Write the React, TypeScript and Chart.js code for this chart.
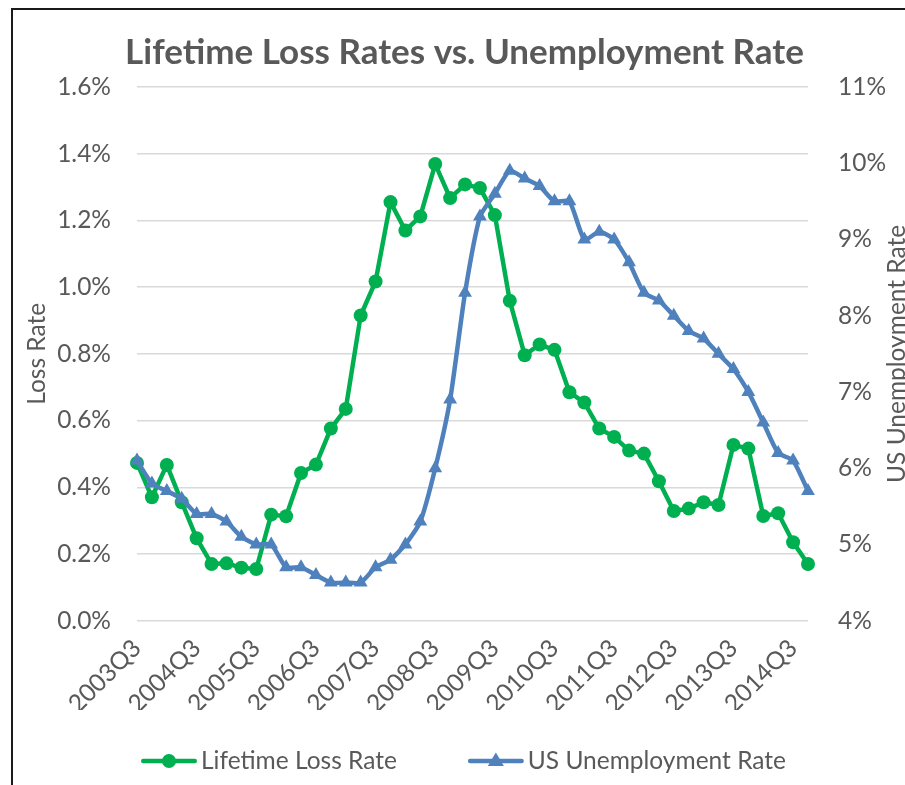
import React, { useEffect, useRef } from 'react';
import { Chart, registerables } from 'chart.js';

Chart.register(...registerables);

// Quarterly categories, 2003Q3 through 2014Q4
const quarters: string[] = [
  '2003Q3', '2003Q4',
  '2004Q1', '2004Q2', '2004Q3', '2004Q4',
  '2005Q1', '2005Q2', '2005Q3', '2005Q4',
  '2006Q1', '2006Q2', '2006Q3', '2006Q4',
  '2007Q1', '2007Q2', '2007Q3', '2007Q4',
  '2008Q1', '2008Q2', '2008Q3', '2008Q4',
  '2009Q1', '2009Q2', '2009Q3', '2009Q4',
  '2010Q1', '2010Q2', '2010Q3', '2010Q4',
  '2011Q1', '2011Q2', '2011Q3', '2011Q4',
  '2012Q1', '2012Q2', '2012Q3', '2012Q4',
  '2013Q1', '2013Q2', '2013Q3', '2013Q4',
  '2014Q1', '2014Q2', '2014Q3', '2014Q4',
];

// Lifetime loss rate (%), left axis
const lifetimeLossRate: number[] = [
  0.473, 0.37,
  0.467, 0.355, 0.247, 0.17,
  0.172, 0.159, 0.155, 0.318,
  0.313, 0.443, 0.468, 0.576,
  0.635, 0.915, 1.017, 1.255,
  1.17, 1.212, 1.369, 1.267,
  1.308, 1.297, 1.216, 0.959,
  0.796, 0.828, 0.812, 0.685,
  0.654, 0.576, 0.551, 0.51,
  0.501, 0.418, 0.329, 0.336,
  0.355, 0.347, 0.527, 0.516,
  0.314, 0.322, 0.235, 0.17,
];

// US unemployment rate (%), right axis
const usUnemploymentRate: number[] = [
  6.1, 5.8,
  5.7, 5.6, 5.4, 5.4,
  5.3, 5.1, 5.0, 5.0,
  4.7, 4.7, 4.6, 4.5,
  4.5, 4.5, 4.7, 4.8,
  5.0, 5.3, 6.0, 6.9,
  8.3, 9.3, 9.6, 9.9,
  9.8, 9.7, 9.5, 9.5,
  9.0, 9.1, 9.0, 8.7,
  8.3, 8.2, 8.0, 7.8,
  7.7, 7.5, 7.3, 7.0,
  6.6, 6.2, 6.1, 5.7,
];

const chartTitle = 'Lifetime Loss Rates vs. Unemployment Rate';
const seriesNames = ['Lifetime Loss Rate', 'US Unemployment Rate'];
const axisTitles = ['Loss Rate', 'US Unemployment Rate'];

const GREEN = '#00B050';
const BLUE = '#4F81BD';
const TEXT = '#595959';
const GRID = '#D9D9D9';
const FONT = 'Lato, "Open Sans", sans-serif';
const FS = 24.5;
const W = 905;
const H = 785;

type Marker = 'circle' | 'triangle';
const legendItems: { text: string; color: string; marker: Marker }[] = [
  { text: seriesNames[0], color: GREEN, marker: 'circle' },
  { text: seriesNames[1], color: BLUE, marker: 'triangle' },
];

// Draws the title, the right-hand axis title (reading bottom to top) and a
// legend whose keys are a line segment with the series marker in the middle.
const overlayText = {
  id: 'overlayText',
  afterDraw(chart: Chart) {
    const { ctx, chartArea } = chart;
    ctx.save();
    ctx.fillStyle = TEXT;
    ctx.textAlign = 'center';
    ctx.textBaseline = 'middle';
    ctx.font = `bold 35px ${FONT}`;
    ctx.fillText(chartTitle, 464.5, 53);

    ctx.save();
    ctx.font = `${FS}px ${FONT}`;
    ctx.translate(897.5, (chartArea.top + chartArea.bottom) / 2);
    ctx.rotate(-Math.PI / 2);
    ctx.fillText(axisTitles[1], 0, 0);
    ctx.restore();

    // legend
    const ly = 761;
    const keyW = 56;
    let x = 141;
    ctx.font = `${FS}px ${FONT}`;
    ctx.textAlign = 'left';
    legendItems.forEach((item) => {
      ctx.strokeStyle = item.color;
      ctx.fillStyle = item.color;
      ctx.lineWidth = 4.5;
      ctx.lineCap = 'round';
      ctx.beginPath();
      ctx.moveTo(x + 2.25, ly);
      ctx.lineTo(x + keyW - 2.25, ly);
      ctx.stroke();
      const cx = x + keyW / 2;
      ctx.beginPath();
      if (item.marker === 'circle') {
        ctx.arc(cx, ly, 7, 0, Math.PI * 2);
      } else {
        ctx.moveTo(cx, ly - 8.5);
        ctx.lineTo(cx + 8, ly + 5);
        ctx.lineTo(cx - 8, ly + 5);
        ctx.closePath();
      }
      ctx.fill();
      ctx.fillStyle = TEXT;
      const tx = x + keyW + 4;
      ctx.fillText(item.text, tx, ly);
      x = tx + ctx.measureText(item.text).width + 71;
    });
    ctx.restore();
  },
};

export default function App() {
  const canvasRef = useRef<HTMLCanvasElement | null>(null);

  useEffect(() => {
    if (!canvasRef.current) return;

    const chart = new Chart(canvasRef.current, {
      type: 'line',
      data: {
        labels: quarters,
        datasets: [
          {
            label: seriesNames[1],
            data: usUnemploymentRate,
            yAxisID: 'y1',
            borderColor: BLUE,
            backgroundColor: BLUE,
            borderWidth: 4.5,
            borderJoinStyle: 'round',
            borderCapStyle: 'round',
            tension: 0.2,
            pointStyle: 'triangle',
            pointRadius: 8,
            pointBorderWidth: 0,
            pointBackgroundColor: BLUE,
          },
          {
            label: seriesNames[0],
            data: lifetimeLossRate,
            yAxisID: 'y',
            borderColor: GREEN,
            backgroundColor: GREEN,
            borderWidth: 4.5,
            borderJoinStyle: 'round',
            borderCapStyle: 'round',
            tension: 0,
            pointStyle: 'circle',
            pointRadius: 7,
            pointBorderWidth: 0,
            pointBackgroundColor: GREEN,
          },
        ],
      },
      options: {
        responsive: false,
        animation: false,
        events: [],
        layout: { padding: { left: 0, right: 0, top: 87, bottom: 75 } },
        plugins: {
          title: { display: false },
          legend: { display: false },
          tooltip: { enabled: false },
        },
        scales: {
          x: {
            type: 'category',
            offset: false,
            grid: { display: false, drawTicks: false },
            border: { display: false },
            ticks: {
              autoSkip: false,
              minRotation: 45,
              maxRotation: 45,
              padding: 13,
              color: TEXT,
              font: { family: FONT, size: FS },
              callback: (_v: any, i: number) => (i % 4 === 0 ? quarters[i] : ''),
            },
            afterFit: (s: any) => {
              s.height = 89.3;
            },
          },
          y: {
            position: 'left',
            min: 0,
            max: 1.6,
            grid: { color: GRID, lineWidth: 1.5, drawTicks: false },
            border: { display: false },
            ticks: {
              stepSize: 0.2,
              padding: 26,
              color: TEXT,
              font: { family: FONT, size: FS },
              callback: (v: any) => `${Number(v).toFixed(1)}%`,
            },
            title: {
              display: true,
              text: axisTitles[0],
              color: TEXT,
              font: { family: FONT, size: FS },
              padding: { top: 22.3, bottom: 0 },
            },
            afterFit: (s: any) => {
              s.width = 137;
            },
          },
          y1: {
            position: 'right',
            min: 4,
            max: 11,
            grid: { display: false, drawTicks: false },
            border: { display: false },
            ticks: {
              stepSize: 1,
              padding: 30,
              color: TEXT,
              font: { family: FONT, size: FS },
              callback: (v: any) => `${v}%`,
            },
            afterFit: (s: any) => {
              s.width = W - 808;
            },
          },
        },
      },
      plugins: [overlayText],
    });

    return () => chart.destroy();
  }, []);

  return (
    <div
      style={{
        position: 'fixed',
        left: 0,
        top: 0,
        width: W,
        height: H,
        overflow: 'hidden',
        background: '#ffffff',
      }}
    >
      <div
        style={{
          position: 'absolute',
          left: 11,
          top: 8,
          width: W,
          height: H,
          borderLeft: '2px solid #1a1a1a',
          borderTop: '2px solid #1a1a1a',
        }}
      />
      <canvas
        ref={canvasRef}
        width={W}
        height={H}
        style={{ position: 'absolute', left: 0, top: 0, display: 'block' }}
      />
    </div>
  );
}
